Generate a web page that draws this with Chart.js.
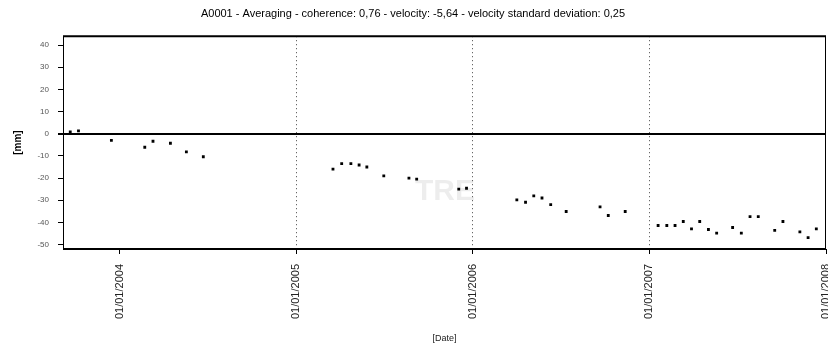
<!DOCTYPE html>
<html>
<head>
<meta charset="utf-8">
<script src="https://cdn.jsdelivr.net/npm/chart.js@4.4.1/dist/chart.umd.min.js"></script>
<style>
html,body{margin:0;padding:0;background:#fff;}
#wrap{width:828px;height:348px;position:relative;}
</style>
</head>
<body>
<div id="wrap"><canvas id="c" width="828" height="348"></canvas></div>
<script>
// days relative to first labelled date
const dates = [-102,-85,-17,52,69,105,138,173,441,459,478,495,511,546,598,614,701,717,821,839,856,873,891,923,993,1010,1045,1113,1131,1148,1165,1182,1199,1217,1234,1267,1285,1303,1320,1354,1371,1406,1423,1440];
const displacement = [0.8,1.3,-3.0,-6.1,-3.4,-4.3,-8.2,-10.4,-16.0,-13.5,-13.5,-14.1,-15.0,-19.0,-20.0,-20.5,-25.0,-24.6,-29.8,-30.9,-28.0,-29.0,-32.0,-35.1,-33.0,-36.9,-35.1,-41.4,-41.4,-41.4,-39.6,-42.9,-39.6,-43.2,-44.8,-42.3,-44.8,-37.4,-37.4,-43.6,-39.6,-44.3,-46.9,-42.9];
const tickValues = [0,365,730,1095,1460];
const tickLabels = ["01/01/2004","01/01/2005","01/01/2006","01/01/2007","01/01/2008"];
const yTicks = [-50,-40,-30,-20,-10,0,10,20,30,40];
const titleText = "A0001 - Averaging - coherence: 0,76 - velocity: -5,64 - velocity standard deviation: 0,25";

const watermark = {
  id:'watermark',
  beforeDatasetsDraw(chart){
    const {ctx} = chart;
    ctx.save();
    ctx.fillStyle = 'rgba(0,0,0,0.07)';
    ctx.font = 'bold 30px "Liberation Sans", Arial, sans-serif';
    ctx.textAlign = 'center';
    ctx.textBaseline = 'middle';
    ctx.fillText('TRE', 445, 192);
    ctx.restore();
  }
};

const borders = {
  id:'borders',
  afterDatasetsDraw(chart){
    const {ctx, chartArea:a} = chart;
    ctx.save();
    ctx.strokeStyle = '#000';
    ctx.lineWidth = 2;
    ctx.beginPath();
    ctx.moveTo(a.left, a.top); ctx.lineTo(a.right, a.top);
    ctx.moveTo(a.left, a.bottom); ctx.lineTo(a.right, a.bottom);
    ctx.stroke();
    ctx.lineWidth = 1;
    ctx.beginPath();
    ctx.moveTo(a.right-0.5, a.top); ctx.lineTo(a.right-0.5, a.bottom);
    ctx.stroke();
    ctx.restore();
  }
};

new Chart(document.getElementById('c'), {
  type:'scatter',
  data:{
    datasets:[{
      data: dates.map((d,i)=>({x:d, y:displacement[i]})),
      pointStyle:'rect',
      pointRadius:2,
      pointHoverRadius:2,
      backgroundColor:'#000',
      borderColor:'#000',
      borderWidth:0
    }]
  },
  options:{
    responsive:false,
    animation:false,
    events:[],
    layout:{padding:{left:0,right:2,top:0,bottom:0}},
    plugins:{
      legend:{display:false},
      tooltip:{enabled:false},
      title:{
        display:true,
        text:titleText,
        color:'#000',
        font:{family:'"Liberation Sans", Arial, sans-serif', size:11, weight:'normal'},
        padding:{top:7,bottom:16}
      }
    },
    scales:{
      x:{
        type:'linear',
        min:-117,
        max:1460,
        afterBuildTicks(axis){ axis.ticks = tickValues.map(v=>({value:v})); },
        afterFit(axis){ axis.height = 99; axis.paddingLeft = 0; axis.paddingRight = 0; },
        ticks:{
          autoSkip:false,
          minRotation:90,
          maxRotation:90,
          padding:10,
          color:'#222',
          font:{family:'"Liberation Sans", Arial, sans-serif', size:11},
          callback:(v)=>{ const i = tickValues.indexOf(v); return i>=0 ? tickLabels[i] : ''; }
        },
        grid:{
          drawOnChartArea:true,
          color:(c)=> (c.tick && (c.tick.value===365||c.tick.value===730||c.tick.value===1095)) ? '#444' : 'rgba(0,0,0,0)',
          tickColor:'#000',
          tickLength:5,
          lineWidth:1
        },
        border:{display:false, dash:[1,3]},
        title:{
          display:true,
          text:'[Date]',
          color:'#222',
          font:{family:'"Liberation Sans", Arial, sans-serif', size:9},
          padding:{top:0,bottom:4}
        }
      },
      y:{
        min:-52,
        max:44,
        afterBuildTicks(axis){ axis.ticks = yTicks.map(v=>({value:v})); },
        afterFit(axis){ axis.width = 63; },
        ticks:{
          padding:9,
          color:'#555',
          font:{family:'"Liberation Sans", Arial, sans-serif', size:8}
        },
        grid:{
          drawOnChartArea:true,
          color:(c)=> (c.tick && c.tick.value===0) ? '#000' : 'rgba(0,0,0,0)',
          lineWidth:(c)=> (c.tick && c.tick.value===0) ? 2 : 1,
          tickColor:'#000',
          tickLength:5
        },
        border:{display:true, color:'#000', width:1},
        title:{
          display:true,
          text:'[mm]',
          color:'#000',
          font:{family:'"Liberation Sans", Arial, sans-serif', size:10, weight:'bold'},
          padding:{top:12,bottom:0}
        }
      }
    }
  },
  plugins:[watermark, borders]
});
</script>
</body>
</html>
